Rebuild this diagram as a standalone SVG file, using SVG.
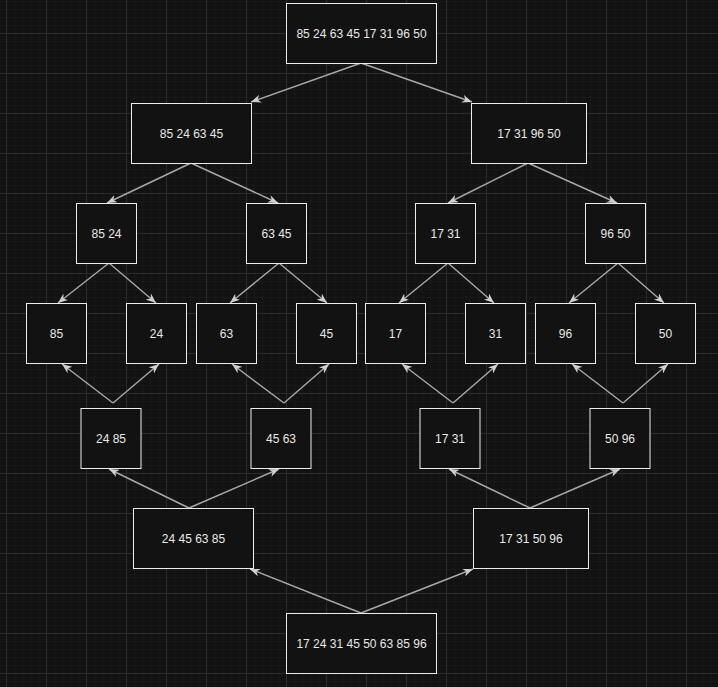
<svg xmlns="http://www.w3.org/2000/svg" width="718" height="687" viewBox="0 0 718 687">
<style>
.n rect{fill:#121212;stroke:#ececec;stroke-width:1}
.n text{fill:#e8e8e8;font-family:"Liberation Sans",Arial,sans-serif;font-size:12px;text-anchor:middle}
#edges line{stroke:#a8a8a8;stroke-width:1.4;marker-end:url(#arr)}
</style>
<defs>
<pattern id="minor" patternUnits="userSpaceOnUse" x="6" y="1" width="8" height="8">
<path d="M0.5,0V8M0,0.5H8" stroke="#181818" stroke-width="1" fill="none"/>
</pattern>
<pattern id="major" patternUnits="userSpaceOnUse" x="6" y="33" width="40" height="40">
<path d="M0.5,0V40M0,0.5H40" stroke="#2b2b2b" stroke-width="1" fill="none"/>
</pattern>
<marker id="arr" markerUnits="userSpaceOnUse" viewBox="0 0 10 8" refX="10" refY="4" markerWidth="10" markerHeight="8" orient="auto">
<path d="M0,0 L10,4 L0,8 L3,4 z" fill="#d0d0d0"/>
</marker>
</defs>
<rect width="718" height="687" fill="#121212"/>
<rect width="718" height="687" fill="url(#minor)"/>
<rect width="718" height="687" fill="url(#major)"/>
<g id="edges">
<line x1="361" y1="63" x2="251" y2="102"/>
<line x1="361" y1="63" x2="472" y2="102"/>
<line x1="191" y1="163" x2="107" y2="203"/>
<line x1="191" y1="163" x2="278" y2="203"/>
<line x1="528" y1="163" x2="448" y2="203"/>
<line x1="528" y1="163" x2="617" y2="203"/>
<line x1="109" y1="263" x2="58" y2="303"/>
<line x1="109" y1="263" x2="156" y2="303"/>
<line x1="279" y1="263" x2="230" y2="303"/>
<line x1="279" y1="263" x2="327" y2="303"/>
<line x1="448" y1="263" x2="399" y2="303"/>
<line x1="448" y1="263" x2="494" y2="303"/>
<line x1="618" y1="263" x2="569" y2="303"/>
<line x1="618" y1="263" x2="664" y2="303"/>
<line x1="113" y1="403" x2="62" y2="364"/>
<line x1="113" y1="403" x2="159" y2="364"/>
<line x1="284" y1="403" x2="232" y2="364"/>
<line x1="284" y1="403" x2="329" y2="364"/>
<line x1="453" y1="403" x2="402" y2="364"/>
<line x1="453" y1="403" x2="498" y2="364"/>
<line x1="623" y1="403" x2="572" y2="364"/>
<line x1="623" y1="403" x2="668" y2="364"/>
<line x1="189" y1="508" x2="109" y2="469"/>
<line x1="189" y1="508" x2="279" y2="469"/>
<line x1="530" y1="508" x2="449" y2="469"/>
<line x1="530" y1="508" x2="620" y2="469"/>
<line x1="361" y1="613" x2="250" y2="569"/>
<line x1="361" y1="613" x2="473" y2="569"/>
</g>
<g id="n1" class="n"><rect x="286.5" y="3.5" width="150" height="60"/><text x="361.5" y="38">85 24 63 45 17 31 96 50</text></g>
<g id="n2" class="n"><rect x="131.5" y="103.5" width="120" height="60"/><text x="191.5" y="138">85 24 63 45</text></g>
<g id="n3" class="n"><rect x="471.5" y="103.5" width="115" height="60"/><text x="529" y="138">17 31 96 50</text></g>
<g id="n4" class="n"><rect x="76.5" y="203.5" width="60" height="60"/><text x="106.5" y="238">85 24</text></g>
<g id="n5" class="n"><rect x="246.5" y="203.5" width="60" height="60"/><text x="276.5" y="238">63 45</text></g>
<g id="n6" class="n"><rect x="415.5" y="203.5" width="60" height="60"/><text x="445.5" y="238">17 31</text></g>
<g id="n7" class="n"><rect x="585.5" y="203.5" width="60" height="60"/><text x="615.5" y="238">96 50</text></g>
<g id="n8" class="n"><rect x="26.5" y="303.5" width="60" height="60"/><text x="56.5" y="338">85</text></g>
<g id="n9" class="n"><rect x="126.5" y="303.5" width="60" height="60"/><text x="156.5" y="338">24</text></g>
<g id="n10" class="n"><rect x="196.5" y="303.5" width="60" height="60"/><text x="226.5" y="338">63</text></g>
<g id="n11" class="n"><rect x="296.5" y="303.5" width="60" height="60"/><text x="326.5" y="338">45</text></g>
<g id="n12" class="n"><rect x="365.5" y="303.5" width="60" height="60"/><text x="395.5" y="338">17</text></g>
<g id="n13" class="n"><rect x="465.5" y="303.5" width="60" height="60"/><text x="495.5" y="338">31</text></g>
<g id="n14" class="n"><rect x="535.5" y="303.5" width="60" height="60"/><text x="565.5" y="338">96</text></g>
<g id="n15" class="n"><rect x="635.5" y="303.5" width="60" height="60"/><text x="665.5" y="338">50</text></g>
<g id="n16" class="n"><rect x="81" y="408.5" width="60" height="60"/><text x="111" y="443">24 85</text></g>
<g id="n17" class="n"><rect x="251" y="408.5" width="60" height="60"/><text x="281" y="443">45 63</text></g>
<g id="n18" class="n"><rect x="420" y="408.5" width="60" height="60"/><text x="450" y="443">17 31</text></g>
<g id="n19" class="n"><rect x="590" y="408.5" width="60" height="60"/><text x="620" y="443">50 96</text></g>
<g id="n20" class="n"><rect x="133.5" y="508.5" width="120" height="60"/><text x="193.5" y="543">24 45 63 85</text></g>
<g id="n21" class="n"><rect x="473.5" y="508.5" width="115" height="60"/><text x="531" y="543">17 31 50 96</text></g>
<g id="n22" class="n"><rect x="286.5" y="613.5" width="150" height="60"/><text x="361.5" y="648">17 24 31 45 50 63 85 96</text></g>
</svg>
